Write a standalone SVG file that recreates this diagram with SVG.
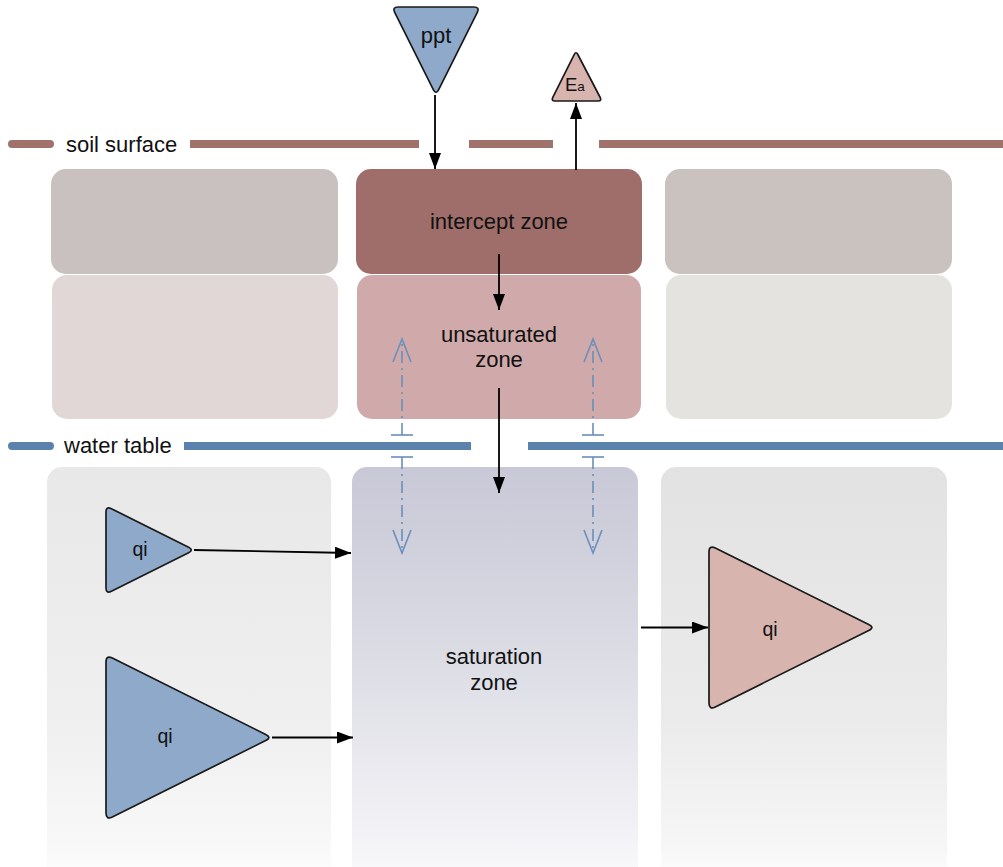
<svg xmlns="http://www.w3.org/2000/svg" width="1003" height="867" viewBox="0 0 1003 867">
<style>
text{font-family:"Liberation Sans",Arial,Helvetica,sans-serif;fill:#111;}
.lbl{font-size:22px;text-anchor:middle;}
.q{font-size:19.5px;text-anchor:middle;}
.tri{stroke:#1a1a1a;stroke-width:1.7;stroke-linejoin:round;}
.blue{fill:#8ea9c9;}
.pink{fill:#d8b4ae;}
.conn{stroke:#000;stroke-width:1.8;fill:none;}
.dd{stroke:#6a8fbb;stroke-width:1.6;fill:none;stroke-dasharray:12,5,2,5;}
.tick{stroke:#6a8fbb;stroke-width:1.6;fill:none;}
</style>
<defs>
<marker id="ah" markerUnits="userSpaceOnUse" markerWidth="16" markerHeight="12" refX="16" refY="6" orient="auto">
<path d="M0,0 L16,6 L0,12 Z" fill="#000"/>
</marker>
<marker id="open" markerUnits="userSpaceOnUse" markerWidth="26" markerHeight="22" refX="24" refY="11" orient="auto">
<path d="M1,2 L24,11 L1,20" fill="none" stroke="#6a8fbb" stroke-width="1.6"/>
</marker>
<linearGradient id="gL" x1="0" y1="0" x2="0" y2="1">
<stop offset="0" stop-color="#e8e8e8"/><stop offset="0.6" stop-color="#efefef"/><stop offset="0.9" stop-color="#f8f8f8"/><stop offset="1" stop-color="#ffffff"/>
</linearGradient>
<linearGradient id="gM" x1="0" y1="0" x2="0" y2="1">
<stop offset="0" stop-color="#c8c8d7"/><stop offset="0.45" stop-color="#dcdce5"/><stop offset="0.85" stop-color="#f1f1f5"/><stop offset="1" stop-color="#fbfbfd"/>
</linearGradient>
<linearGradient id="gR" x1="0" y1="0" x2="0" y2="1">
<stop offset="0" stop-color="#e2e2e2"/><stop offset="0.6" stop-color="#ebebeb"/><stop offset="0.9" stop-color="#f6f6f6"/><stop offset="1" stop-color="#ffffff"/>
</linearGradient>
</defs>

<!-- soil surface line -->
<g id="soil-surface">
<rect x="8" y="140" width="46" height="8" rx="4" fill="#a0726c"/>
<rect x="190" y="140" width="229" height="8" fill="#a0726c"/>
<rect x="469" y="140" width="84" height="8" fill="#a0726c"/>
<rect x="599" y="140" width="404" height="8" fill="#a0726c"/>
<text x="66" y="152" style="font-size:22px">soil surface</text>
</g>

<!-- water table line -->
<g id="water-table">
<rect x="8" y="442" width="46" height="8" rx="4" fill="#5a82ad"/>
<rect x="184" y="442" width="287" height="8" fill="#5a82ad"/>
<rect x="528" y="442" width="475" height="8" fill="#5a82ad"/>
<text x="64" y="453" style="font-size:22px">water table</text>
</g>

<!-- top row -->
<g id="top-left"><rect x="51" y="169" width="287" height="105" rx="15" fill="#c9c1bf"/></g>
<g id="top-right"><rect x="665" y="169" width="287" height="105" rx="15" fill="#c9c2bf"/></g>
<g id="intercept-zone"><rect x="356" y="169" width="286" height="105" rx="15" fill="#9f6e6b"/>
<text class="lbl" x="499" y="229">intercept zone</text></g>

<!-- second row -->
<g id="mid-left"><rect x="52" y="275" width="286" height="144" rx="15" fill="#e0d7d6"/></g>
<g id="mid-right"><rect x="666" y="275" width="286" height="144" rx="15" fill="#e4e3e0"/></g>
<g id="unsaturated-zone"><rect x="357" y="275" width="284" height="144" rx="15" fill="#d0aaaa"/>
<text class="lbl" x="499" y="342">unsaturated</text>
<text class="lbl" x="499" y="367">zone</text></g>

<!-- bottom row -->
<g id="bottom-left"><rect x="47" y="467" width="284" height="420" rx="15" fill="url(#gL)"/></g>
<g id="bottom-right"><rect x="661" y="467" width="286" height="420" rx="15" fill="url(#gR)"/></g>
<g id="saturation-zone"><rect x="352" y="467" width="286" height="420" rx="15" fill="url(#gM)"/>
<text class="lbl" x="494" y="664">saturation</text>
<text class="lbl" x="494" y="690">zone</text></g>

<!-- sources / sinks -->
<g id="ppt">
<path class="tri blue" d="M398,7 L474,7 Q480,7 477.3,12.4 L438.7,89.6 Q436,95 433.3,89.6 L394.7,12.4 Q392,7 398,7 Z"/>
<text class="lbl" x="436" y="43">ppt</text>
</g>
<g id="Ea">
<path class="tri pink" d="M577.8,54.5 L600.2,97.5 Q602,101 598,101 L555,101 Q551,101 552.8,97.4 L574.2,54.6 Q576,51 577.8,54.5 Z"/>
<text x="565" y="91" style="font-size:18.5px">E<tspan style="font-size:13.5px">a</tspan></text>
</g>
<g id="qi-in-1">
<path class="tri blue" d="M111.4,508.7 L188.6,547.3 Q194,550 188.6,552.7 L111.4,591.3 Q106,594 106,588 L106,512 Q106,506 111.4,508.7 Z"/>
<text class="q" x="140" y="556">qi</text>
</g>
<g id="qi-in-2">
<path class="tri blue" d="M112.3,658.1 L265.7,734.4 Q272,737.5 265.7,740.6 L112.3,816.9 Q106,820 106,813 L106,662 Q106,655 112.3,658.1 Z"/>
<text class="q" x="165" y="743">qi</text>
</g>
<g id="qi-out">
<path class="tri pink" d="M715.3,548.1 L868.7,624.4 Q875,627.5 868.7,630.6 L715.3,706.9 Q709,710 709,703 L709,552 Q709,545 715.3,548.1 Z"/>
<text class="q" x="770" y="636">qi</text>
</g>

<!-- connectors -->
<g id="connectors">
<line class="conn" x1="435" y1="95" x2="435" y2="169" marker-end="url(#ah)"/>
<line class="conn" x1="576" y1="170" x2="576" y2="103" marker-end="url(#ah)"/>
<line class="conn" x1="499" y1="254" x2="499" y2="310" marker-end="url(#ah)"/>
<line class="conn" x1="499" y1="388" x2="499" y2="493" marker-end="url(#ah)"/>
<line class="conn" x1="194" y1="550" x2="351" y2="553" marker-end="url(#ah)"/>
<line class="conn" x1="272" y1="737.5" x2="353" y2="737.5" marker-end="url(#ah)"/>
<line class="conn" x1="641" y1="627.5" x2="708" y2="627.5" marker-end="url(#ah)"/>

<line class="dd" x1="402" y1="435" x2="402" y2="339" marker-end="url(#open)"/>
<line class="tick" x1="391" y1="435" x2="413" y2="435"/>
<line class="tick" x1="391" y1="457" x2="413" y2="457"/>
<line class="dd" x1="402" y1="457" x2="402" y2="553" marker-end="url(#open)"/>

<line class="dd" x1="593" y1="435" x2="593" y2="339" marker-end="url(#open)"/>
<line class="tick" x1="582" y1="435" x2="604" y2="435"/>
<line class="tick" x1="582" y1="457" x2="604" y2="457"/>
<line class="dd" x1="593" y1="457" x2="593" y2="553" marker-end="url(#open)"/>
</g>
</svg>
